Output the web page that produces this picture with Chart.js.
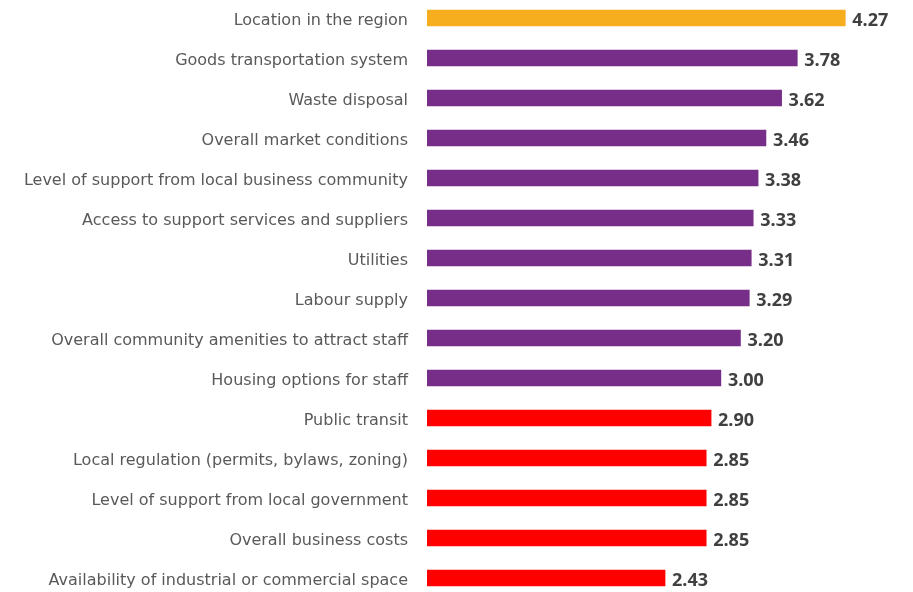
<!DOCTYPE html>
<html>
<head>
<meta charset="utf-8">
<script src="https://cdn.jsdelivr.net/npm/chart.js@4.4.1/dist/chart.umd.min.js"></script>
<style>
  html, body { margin: 0; padding: 0; background: #fff; overflow: hidden; }
  #factorChart { display: block; margin-top: -2px; }
</style>
</head>
<body>
<canvas id="factorChart" width="913" height="600"></canvas>
<script>
// Average rating of each business location factor
const factors = [
    'Location in the region',
    'Goods transportation system',
    'Waste disposal',
    'Overall market conditions',
    'Level of support from local business community',
    'Access to support services and suppliers',
    'Utilities',
    'Labour supply',
    'Overall community amenities to attract staff',
    'Housing options for staff',
    'Public transit',
    'Local regulation (permits, bylaws, zoning)',
    'Level of support from local government',
    'Overall business costs',
    'Availability of industrial or commercial space'
];
const ratings = [4.27, 3.78, 3.62, 3.46, 3.38, 3.33, 3.31, 3.29, 3.20, 3.00, 2.90, 2.85, 2.85, 2.85, 2.43];

// top factor in orange, 3.00 and above purple, below 3 red
function barColour(value, index) {
    if (index === 0) return '#F6AE1E';
    return value >= 3 ? '#772E88' : '#FF0000';
}

// factor names to the left of the bars and the rating past the end of each bar
const barText = {
    id: 'barText',
    afterDatasetsDraw(chart) {
        const c = chart.ctx;
        const yScale = chart.scales.y;
        const meta = chart.getDatasetMeta(0);
        c.save();
        c.textBaseline = 'alphabetic';

        c.font = '16px "DejaVu Sans"';
        c.fillStyle = '#595959';
        c.textAlign = 'right';
        factors.forEach((name, i) => {
            c.fillText(name, chart.chartArea.left - 19, yScale.getPixelForValue(i) + 7);
        });

        c.font = 'bold 18px "Open Sans"';
        c.fillStyle = '#404040';
        c.textAlign = 'left';
        meta.data.forEach((bar, i) => {
            c.fillText(ratings[i].toFixed(2), bar.x + 7, bar.y + 8);
        });
        c.restore();
    }
};

const ctx = document.getElementById('factorChart').getContext('2d');
const factorChart = new Chart(ctx, {
    type: 'bar',
    data: {
        labels: factors,
        datasets: [{
            data: ratings,
            backgroundColor: ratings.map(barColour),
            barThickness: 16,
            borderWidth: 0
        }]
    },
    options: {
        indexAxis: 'y',
        responsive: false,
        animation: false,
        layout: { padding: { left: 0, right: 6, top: 0, bottom: 0 } },
        plugins: {
            legend: { display: false },
            tooltip: { enabled: false }
        },
        scales: {
            x: {
                display: false,
                min: 0,
                max: 4.9
            },
            y: {
                grid: { display: false, drawTicks: false },
                border: { display: false },
                ticks: { display: false },
                afterFit(scale) {
                    scale.width = 427;
                    scale.paddingTop = 0;
                    scale.paddingBottom = 0;
                }
            }
        }
    },
    plugins: [barText]
});
</script>
</body>
</html>
